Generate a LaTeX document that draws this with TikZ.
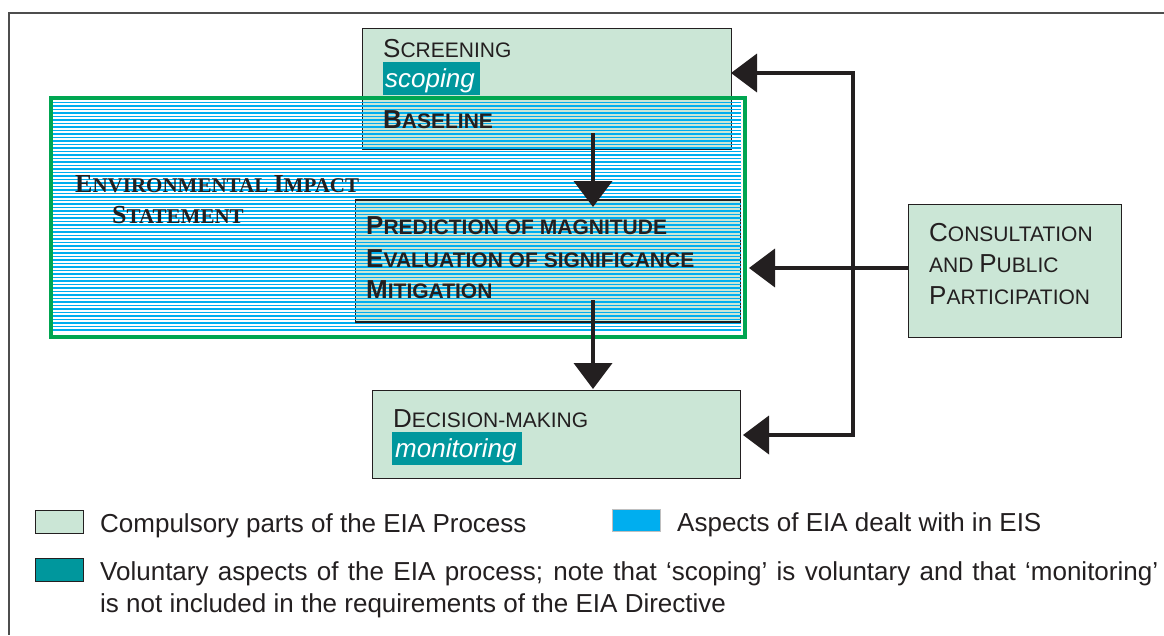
\documentclass[tikz,border=0pt]{standalone}
\usepackage{fontspec}
\setmainfont{Liberation Sans}
\newfontfamily\tnr{Liberation Serif}
\usetikzlibrary{arrows.meta}
\definecolor{lgreen}{HTML}{CBE6D6}
\definecolor{tealv}{HTML}{00979D}
\definecolor{bluel}{HTML}{00AEEF}
\definecolor{greenb}{HTML}{00A651}
\definecolor{ink}{HTML}{231F20}
\definecolor{frameg}{HTML}{4D4D4D}
\newcommand\bigc[1]{{\fontsize{26}{30}\selectfont #1}}
\newcommand\smc[1]{{\fontsize{21}{25}\selectfont #1}}
\begin{document}
\begin{tikzpicture}[x=1pt,y=-1pt,
  box/.style={draw=ink, line width=1.3pt, fill=lgreen, anchor=north west, inner sep=0pt},
  lbl/.style={anchor=base west, inner sep=0pt, text=ink},
  lgd/.style={anchor=base west, inner sep=0pt, text=ink, font=\fontsize{26}{30}\selectfont},
  hlbox/.style={fill=tealv, anchor=north west, inner sep=0pt, draw=none},
  hltext/.style={anchor=base west, inner sep=0pt, text=white, font=\fontsize{26}{30}\selectfont\itshape},
  blueline/.style={draw=bluel, line width=1.6pt},
  conn/.style={draw=ink, line width=4pt},
  arr/.style={conn, -{Triangle[length=26pt,width=38pt]}},
  frameline/.style={draw=frameg, line width=1.8pt}
]
\useasboundingbox[fill=white] (0,0) rectangle (1164,635);
% frame
\coordinate (f1) at (1164,13);
\coordinate (f2) at (9,13);
\coordinate (f3) at (9,635);
\draw[frameline] (f1) -- (f2) -- (f3);
% boxes under hatching
\node[box, minimum width=369pt, minimum height=120pt] (screen) at (362,28) {};
\node[box, minimum width=385pt, minimum height=121pt] (pred) at (355,200) {};
% EIS hatching
\foreach \y in {99,102.5,...,333} \draw[blueline] (51,\y) -- (741,\y);
\node[draw=greenb, line width=4pt, anchor=north west, inner sep=0pt, minimum width=694pt, minimum height=239pt] (eis) at (49,96) {};
% horizontal borders on top
\draw[draw=ink, line width=1.3pt] (screen.south west) -- (screen.south east);
\draw[draw=ink, line width=1.3pt] (pred.north west) -- (pred.north east);
\draw[draw=ink, line width=1.3pt] (pred.south west) -- (pred.south east);
% texts in screening
\node[lbl] (screentxt) at (383,57) {\bigc{S}\smc{CREENING}};
\node[hlbox, minimum width=97pt, minimum height=33pt] (scopebg) at (383,62) {};
\node[hltext] (scoping) at (385,87) {scoping};
\node[lbl, font=\bfseries] (baseline) at (383,128) {\bigc{B}\smc{ASELINE}};
% EIS title
\node[lbl, font=\tnr\bfseries] (eis1) at (75,192) {\bigc{E}\smc{NVIRONMENTAL }\bigc{I}\smc{MPACT}};
\node[lbl, font=\tnr\bfseries] (eis2) at (112,223) {\bigc{S}\smc{TATEMENT}};
% prediction texts
\node[lbl, font=\bfseries] (p1) at (366,234) {\bigc{P}\smc{REDICTION OF MAGNITUDE}};
\node[lbl, font=\bfseries] (p2) at (366,267) {\bigc{E}\smc{VALUATION OF SIGNIFICANCE}};
\node[lbl, font=\bfseries] (p3) at (366,298) {\bigc{M}\smc{ITIGATION}};
% decision box
\node[box, minimum width=368pt, minimum height=88pt] (decision) at (372,390) {};
\node[lbl] (dectxt) at (393,427) {\bigc{D}\smc{ECISION-MAKING}};
\node[hlbox, minimum width=130pt, minimum height=33pt] (monbg) at (392,432) {};
\node[hltext] (monitoring) at (395,457) {monitoring};
% consultation box
\node[box, minimum width=213pt, minimum height=133pt] (consult) at (908,204) {};
\node[lbl] (c1) at (929,241) {\bigc{C}\smc{ONSULTATION}};
\node[lbl] (c2) at (929,272) {\smc{AND }\bigc{P}\smc{UBLIC}};
\node[lbl] (c3) at (929,304) {\bigc{P}\smc{ARTICIPATION}};
% arrows
\coordinate (a1s) at (593,133);
\coordinate (a1e) at (593,207);
\coordinate (a2s) at (593,300);
\coordinate (a2e) at (593,389);
\draw[arr] (a1s) -- (a1e);
\draw[arr] (a2s) -- (a2e);
\coordinate (st) at (731,73);
\coordinate (vt) at (853,73);
\coordinate (vb) at (853,435);
\coordinate (dt) at (743,435);
\coordinate (ct) at (749,268);
\draw[conn, {Triangle[length=26pt,width=38pt]}-{Triangle[length=26pt,width=38pt]}] (st) -- (vt) -- (vb) -- (dt);
\draw[arr] (consult.west |- ct) -- (ct);
% legend
\node[box, line width=1.2pt, minimum width=48pt, minimum height=23pt] (lg1) at (35,510) {};
\node[lgd] (lt1) at (100,532) {Compulsory parts of the EIA Process};
\node[fill=bluel, draw=black!25, line width=1.2pt, anchor=north west, inner sep=0pt, minimum width=48pt, minimum height=22pt] (lg2) at (612,509) {};
\node[lgd] (lt2) at (677,531) {Aspects of EIA dealt with in EIS};
\node[box, fill=tealv, line width=1.2pt, minimum width=48pt, minimum height=23pt] (lg3) at (35,558) {};
\node[lgd] (lt3) at (100,580) {\makebox[1058pt][s]{Voluntary aspects of the EIA process; note that ‘scoping’ is voluntary and that ‘monitoring’}};
\node[lgd] (lt4) at (100,612) {is not included in the requirements of the EIA Directive};
\end{tikzpicture}
\end{document}
